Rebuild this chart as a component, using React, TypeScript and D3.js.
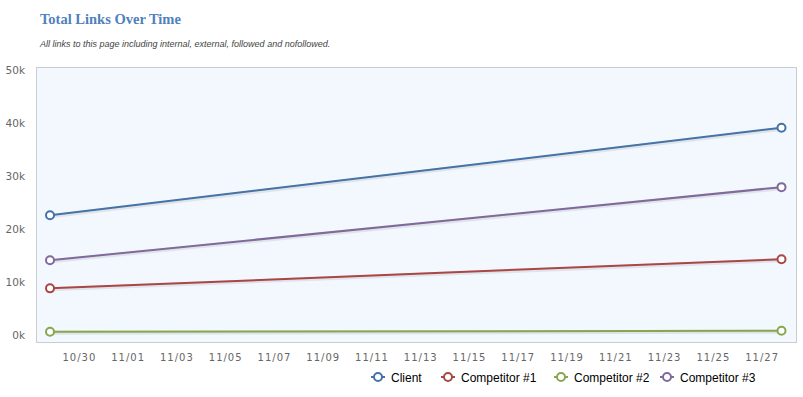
import { useEffect, useRef } from 'react';
import * as d3 from 'd3';

// Chart data
const dates = ['2013-10-29', '2013-11-28'];
const clientValues = [22600, 39100];
const competitor1Values = [8800, 14300];
const competitor2Values = [600, 800];
const competitor3Values = [14100, 27900];
const seriesNames = ['Client', 'Competitor #1', 'Competitor #2', 'Competitor #3'];
const seriesColors = ['#4572a7', '#aa4643', '#89a54e', '#80699b'];
const yTicks = [0, 10000, 20000, 30000, 40000, 50000];
const xTickDates = [
  '2013-10-30', '2013-11-01', '2013-11-03', '2013-11-05', '2013-11-07',
  '2013-11-09', '2013-11-11', '2013-11-13', '2013-11-15', '2013-11-17',
  '2013-11-19', '2013-11-21', '2013-11-23', '2013-11-25', '2013-11-27',
];

const W = 803;
const H = 397;
const box = { left: 36, right: 796, top: 67, bottom: 342 };

export default function App() {
  const svgRef = useRef<SVGSVGElement>(null);

  useEffect(() => {
    const svg = d3.select(svgRef.current);
    svg.selectAll('*').remove();

    const parse = d3.utcParse('%Y-%m-%d');
    const x = d3.scaleUtc()
      .domain([parse(dates[0])!, parse(dates[1])!])
      .range([50, 781.5]);
    const y = d3.scaleLinear().domain([0, 50000]).range([335, 70]);

    // Title
    svg.append('text')
      .attr('x', 40).attr('y', 24)
      .attr('fill', '#4f81bd')
      .attr('font-family', '"Liberation Serif", serif')
      .attr('font-weight', 'bold')
      .attr('font-size', 14.5)
      .text('Total Links Over Time');

    svg.append('text')
      .attr('x', 40).attr('y', 47)
      .attr('fill', '#444')
      .attr('font-family', '"Liberation Sans", Arial, sans-serif')
      .attr('font-style', 'italic')
      .attr('font-size', 9)
      .text('All links to this page including internal, external, followed and nofollowed.');

    // Plot background
    svg.append('rect')
      .attr('x', box.left + 0.5).attr('y', box.top + 0.5)
      .attr('width', box.right - box.left).attr('height', box.bottom - box.top)
      .attr('fill', '#f3f8fe')
      .attr('stroke', '#c8cdd2')
      .attr('stroke-width', 1);

    // Y axis labels
    svg.append('g').selectAll('text')
      .data(yTicks)
      .enter().append('text')
      .attr('x', 25)
      .attr('y', d => y(d))
      .attr('dy', '0.35em')
      .attr('text-anchor', 'end')
      .attr('fill', '#666')
      .attr('font-family', '"DejaVu Sans", sans-serif')
      .attr('font-size', 10.5)
      .text(d => `${d / 1000}k`);

    // X axis labels
    const fmt = d3.utcFormat('%m/%d');
    svg.append('g').selectAll('text')
      .data(xTickDates)
      .enter().append('text')
      .attr('x', d => x(parse(d)!) + 5)
      .attr('y', 361)
      .attr('text-anchor', 'middle')
      .attr('fill', '#666')
      .attr('font-family', '"DejaVu Sans", sans-serif')
      .attr('font-size', 10)
      .attr('letter-spacing', 1)
      .text(d => fmt(parse(d)!));

    const allValues = [clientValues, competitor1Values, competitor2Values, competitor3Values];
    const line = d3.line<number>()
      .x((_, i) => x(parse(dates[i])!))
      .y(d => y(d));

    allValues.forEach((vals, si) => {
      const g = svg.append('g');
      // soft shadow
      g.append('path')
        .attr('d', line(vals))
        .attr('transform', 'translate(1,1)')
        .attr('fill', 'none')
        .attr('stroke', 'rgba(0,0,0,0.08)')
        .attr('stroke-width', 4);
      g.append('path')
        .attr('d', line(vals))
        .attr('fill', 'none')
        .attr('stroke', seriesColors[si])
        .attr('stroke-width', 2);
      g.selectAll('circle')
        .data(vals)
        .enter().append('circle')
        .attr('cx', (_, i) => x(parse(dates[i])!))
        .attr('cy', d => y(d))
        .attr('r', 4)
        .attr('fill', '#fff')
        .attr('stroke', seriesColors[si])
        .attr('stroke-width', 2);
    });

    // Legend
    const legendX = [378, 448, 561, 667];
    const legend = svg.append('g');
    seriesNames.forEach((name, i) => {
      const lx = legendX[i];
      legend.append('line')
        .attr('x1', lx - 7).attr('x2', lx + 7)
        .attr('y1', 377).attr('y2', 377)
        .attr('stroke', seriesColors[i])
        .attr('stroke-width', 2);
      legend.append('circle')
        .attr('cx', lx).attr('cy', 377).attr('r', 4)
        .attr('fill', '#fff')
        .attr('stroke', seriesColors[i])
        .attr('stroke-width', 2);
      legend.append('text')
        .attr('x', lx + 13).attr('y', 381.5)
        .attr('fill', '#000')
        .attr('font-family', '"Liberation Sans", Arial, sans-serif')
        .attr('font-size', 12)
        .text(name);
    });
  }, []);

  return (
    <svg
      ref={svgRef}
      width={W}
      height={H}
      style={{ position: 'absolute', left: 0, top: 0, background: '#fff' }}
    />
  );
}
